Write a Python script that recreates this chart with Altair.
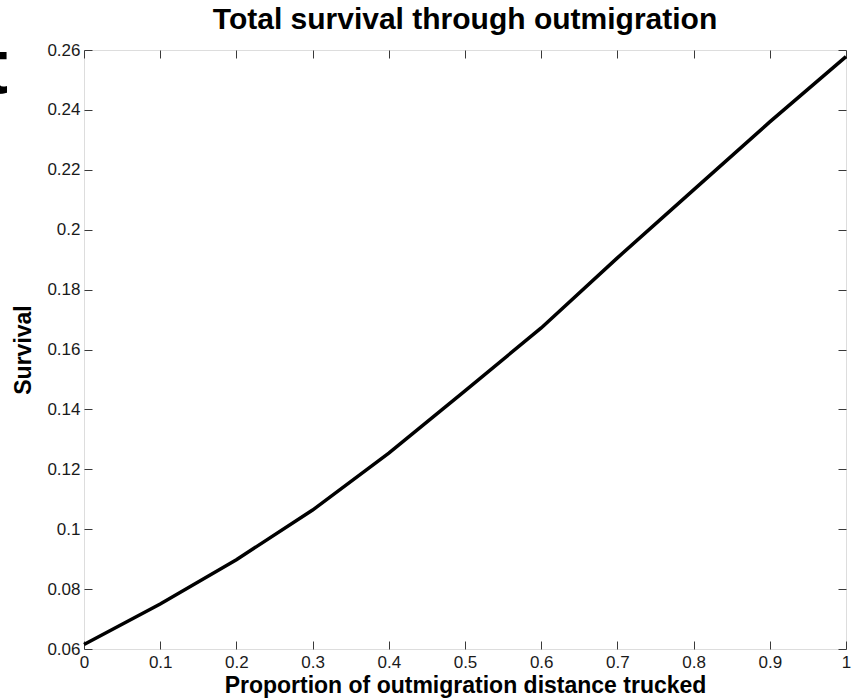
import altair as alt
import pandas as pd

# Proportion of the outmigration distance covered by truck, and resulting survival
proportion = [0.0, 0.1, 0.2, 0.3, 0.4, 0.5, 0.6, 0.7, 0.8, 0.9, 1.0]
survival = [0.0615, 0.0750, 0.0898, 0.1064, 0.1254, 0.1462, 0.1672, 0.1906, 0.2133, 0.2360, 0.2578]

x_ticks = [0, 0.1, 0.2, 0.3, 0.4, 0.5, 0.6, 0.7, 0.8, 0.9, 1]
y_ticks = [0.06, 0.08, 0.1, 0.12, 0.14, 0.16, 0.18, 0.2, 0.22, 0.24, 0.26]

FONT = "Liberation Sans"
INK = "#1a1a1a"
FRAME = "#3a3a3a"

df = pd.DataFrame({"proportion": proportion, "survival": survival})

x_scale = alt.Scale(domain=[0, 1], nice=False, zero=False)
y_scale = alt.Scale(domain=[0.06, 0.26], nice=False, zero=False)

# inward ticks: each axis is pulled 8px into the plot and its ticks reach the frame
tick_style = dict(
    tickSize=8, offset=-8, domain=False, grid=False, tickColor=FRAME, tickWidth=1,
)
text_style = dict(
    labelFont=FONT, labelFontSize=17, labelColor=INK,
    titleFont=FONT, titleFontSize=23, titleFontWeight="bold", titleColor="black",
    labelFlush=False, labelOverlap=False, format="~g",
)

main = alt.Chart(df).mark_line(color="black", strokeWidth=3.5).encode(
    x=alt.X("proportion:Q", scale=x_scale,
            axis=alt.Axis(orient="bottom", values=x_ticks, labelPadding=5,
                          title="Proportion of outmigration distance trucked",
                          titlePadding=4, **tick_style, **text_style)),
    y=alt.Y("survival:Q", scale=y_scale,
            axis=alt.Axis(orient="left", values=y_ticks, labelPadding=4,
                          title="Survival", titlePadding=11, **tick_style, **text_style)),
)

# mirrored inward ticks on the top and right edges
mirror = alt.Chart(df).mark_line(opacity=0).encode(
    x=alt.X("proportion:Q", scale=x_scale,
            axis=alt.Axis(orient="top", values=x_ticks, labels=False, title=None, **tick_style)),
    y=alt.Y("survival:Q", scale=y_scale,
            axis=alt.Axis(orient="right", values=y_ticks, labels=False, title=None, **tick_style)),
)

# large letter at the left margin, mostly cut off by the page edge
edge_letter = alt.Chart(pd.DataFrame({"t": ["t"]})).mark_text(
    font=FONT, fontSize=78, fontWeight="bold", color="black",
    align="right", baseline="alphabetic",
).encode(x=alt.value(-76), y=alt.value(43), text="t:N")

chart = (
    alt.layer(main, mirror, edge_letter)
    .resolve_axis(x="independent", y="independent")
    .properties(
        width=762,
        height=599,
        autosize=alt.AutoSizeParams(type="none"),
        padding={"left": 84, "top": 50, "right": 11, "bottom": 51},
        title=alt.TitleParams(
            text="Total survival through outmigration",
            font=FONT, fontSize=30, fontWeight="bold", color="black",
            anchor="middle", frame="group", baseline="alphabetic", offset=-27.5,
        ),
    )
    .configure_view(stroke=FRAME, strokeWidth=1.2)
    .configure(background="white")
)

chart.save("out.html", embed_options={"renderer": "svg", "actions": False})
